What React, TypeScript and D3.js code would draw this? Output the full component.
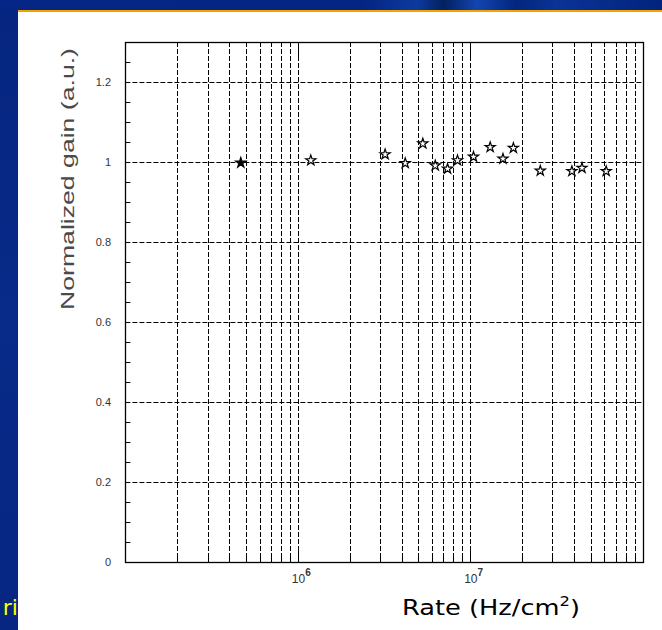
import React from "react";
import * as d3 from "d3";

// Rate (Hz/cm^2) and normalized gain for each measurement
const rates = [4.67e5, 1.19e6, 3.21e6, 4.2e6, 5.31e6, 6.27e6, 7.39e6, 8.44e6, 1.045e7, 1.306e7, 1.549e7, 1.78e7, 2.55e7, 3.89e7, 4.45e7, 6.15e7];
const gains = [0.998, 1.004, 1.019, 0.997, 1.046, 0.991, 0.983, 1.004, 1.013, 1.037, 1.008, 1.035, 0.978, 0.977, 0.985, 0.977];
const filled = [true, false, false, false, false, false, false, false, false, false, false, false, false, false, false, false];

const yTicks = [0, 0.2, 0.4, 0.6, 0.8, 1, 1.2];
const yTickLabels = ["0", "0.2", "0.4", "0.6", "0.8", "1", "1.2"];
const xMajor = [1e6, 1e7];
const xMajorExp = ["6", "7"];
const decades = [1e5, 1e6, 1e7];

const W = 662;
const H = 630;
const left = 125.4;
const right = 642.6;
const top = 42;
const bottom = 562;

export default function App() {
  const x = d3.scaleLog().domain([1e5, 1e8]).range([left, right]);
  const y = d3.scaleLinear().domain([0, 1.3]).range([bottom, top]);

  const xMinor: number[] = [];
  decades.forEach((d) => {
    for (let k = 2; k <= 9; k++) xMinor.push(k * d);
  });
  const yMinor = d3.range(0, 27).map((i) => i * 0.05).filter((v) => Math.abs(v / 0.2 - Math.round(v / 0.2)) > 1e-6);

  const star = d3.symbol().type(d3.symbolStar).size(32);
  const starPath = star() as string;

  const tickFont = "'Liberation Sans', Arial, Helvetica, sans-serif";

  return (
    <svg width={W} height={H} style={{ display: "block", position: "absolute", left: 0, top: 0 }}>
      <defs>
        <linearGradient id="topBand" x1="0" x2="1" y1="0" y2="0">
          <stop offset="0" stopColor="#062685" />
          <stop offset="0.55" stopColor="#042583" />
          <stop offset="0.63" stopColor="#0d3a9e" />
          <stop offset="0.67" stopColor="#03205f" />
          <stop offset="0.72" stopColor="#1245b0" />
          <stop offset="0.78" stopColor="#03267f" />
          <stop offset="0.84" stopColor="#0a3396" />
          <stop offset="1" stopColor="#02237d" />
        </linearGradient>
        <linearGradient id="leftBand" x1="0" x2="0" y1="0" y2="1">
          <stop offset="0" stopColor="#052580" />
          <stop offset="0.5" stopColor="#082a88" />
          <stop offset="1" stopColor="#062682" />
        </linearGradient>
      </defs>

      {/* backdrop */}
      <rect x={0} y={0} width={W} height={H} fill="url(#leftBand)" />
      <rect x={0} y={0} width={W} height={11} fill="url(#topBand)" />
      <text x={18} y={615} textAnchor="end" fill="#ffff00" fontFamily="'Comic Sans MS', 'DejaVu Sans', sans-serif" fontSize={22}>ri</text>
      <rect x={18} y={12} width={W - 18} height={H - 12} fill="#ffffff" />
      <rect x={18} y={10} width={W - 18} height={2} fill="#f4a400" />

      {/* grid */}
      <g stroke="#000" strokeWidth={1} strokeDasharray="5,2" fill="none">
        {xMinor.concat(xMajor).map((v, i) => (
          <line key={"gx" + i} x1={Math.round(x(v)) + 0.5} x2={Math.round(x(v)) + 0.5} y1={top} y2={bottom} />
        ))}
        {yTicks.slice(1).map((v, i) => (
          <line key={"gy" + i} x1={left} x2={right} y1={Math.round(y(v)) + 0.5} y2={Math.round(y(v)) + 0.5} />
        ))}
      </g>

      {/* ticks */}
      <g stroke="#000" strokeWidth={1}>
        {xMinor.map((v, i) => (
          <line key={"tx" + i} x1={Math.round(x(v)) + 0.5} x2={Math.round(x(v)) + 0.5} y1={bottom} y2={bottom - 6} />
        ))}
        {xMajor.map((v, i) => (
          <g key={"txm" + i}>
            <line x1={Math.round(x(v)) + 0.5} x2={Math.round(x(v)) + 0.5} y1={bottom} y2={bottom - 14} />
            <line x1={Math.round(x(v)) + 0.5} x2={Math.round(x(v)) + 0.5} y1={top} y2={top + 14} />
          </g>
        ))}
        {yMinor.map((v, i) => (
          <line key={"ty" + i} x1={left} x2={left + 5} y1={Math.round(y(v)) + 0.5} y2={Math.round(y(v)) + 0.5} />
        ))}
      </g>

      {/* frame */}
      <rect x={Math.round(left) + 0.5} y={top + 0.5} width={Math.round(right) - Math.round(left)} height={bottom - top} fill="none" stroke="#000" strokeWidth={1.3} />

      {/* y tick labels */}
      <g fontFamily={tickFont} fontSize={11} fill="#333" textAnchor="end">
        {yTicks.map((v, i) => (
          <text key={"ly" + i} x={111} y={y(v) + 4}>{yTickLabels[i]}</text>
        ))}
      </g>

      {/* x tick labels */}
      <g fontFamily={tickFont} fill="#333">
        {xMajor.map((v, i) => (
          <text key={"lx" + i} x={x(v) - 6} y={583} fontSize={12}>
            10
            <tspan dy={-7} fontSize={10} fontWeight="bold">{xMajorExp[i]}</tspan>
          </text>
        ))}
      </g>

      {/* axis titles */}
      <text
        transform={`translate(73.5, ${179}) rotate(-90)`}
        textAnchor="middle"
        fontFamily={tickFont}
        fontSize={18}
        fill="#4a4a4a"
        textLength={262}
        lengthAdjust="spacingAndGlyphs"
      >
        Normalized gain (a.u.)
      </text>
      <text x={402} y={615} fontFamily="'Comic Sans MS', 'DejaVu Sans', sans-serif" fontSize={22} fill="#000" textLength={178} lengthAdjust="spacingAndGlyphs">
        Rate (Hz/cm<tspan dy={-9} fontSize={14}>2</tspan><tspan dy={9}>)</tspan>
      </text>

      {/* data markers */}
      <g>
        {rates.map((r, i) => (
          <path
            key={"p" + i}
            d={starPath}
            transform={`translate(${x(r)}, ${y(gains[i])})`}
            fill={filled[i] ? "#000" : "#fff"}
            stroke="#000"
            strokeWidth={1.2}
          />
        ))}
      </g>
    </svg>
  );
}
